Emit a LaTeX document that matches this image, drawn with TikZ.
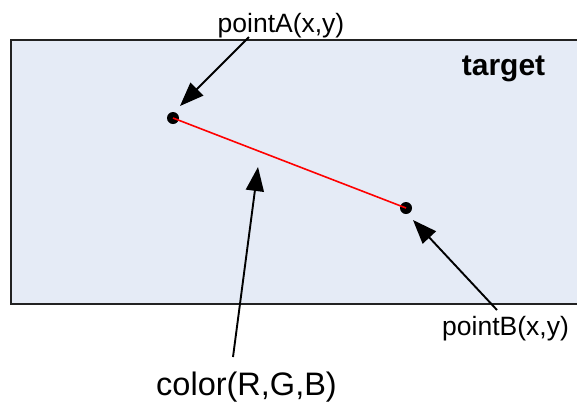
\documentclass[tikz,border=0pt]{standalone}
\usepackage{fontspec}
\setmainfont{Liberation Sans}
\usetikzlibrary{arrows.meta}
\definecolor{panel}{HTML}{E5EBF6}
\definecolor{edge}{HTML}{222222}
\tikzset{
  dot/.style={circle,fill=black,inner sep=0pt,minimum size=12bp},
  lbl/.style={inner sep=0pt,anchor=base},
  pointer/.style={draw=black,line width=1.9bp,-{Triangle[length=24bp,width=18bp]}},
}
\begin{document}
\begin{tikzpicture}[x=1bp,y=-1bp]
\useasboundingbox (0,0) rectangle (577,402);
\begin{scope}
\clip (0,0) rectangle (577,402);
\draw[fill=panel,draw=edge,line width=1.4bp] (11,40) rectangle (590,304);
\end{scope}
\node[lbl,font=\bfseries\fontsize{30bp}{34bp}\selectfont] (target) at (503.5,75) {target};
\node[dot] (A) at (173,118) {};
\node[dot] (B) at (406,208) {};
\draw[red,line width=1.6bp] (A.center) -- (B.center);
\node[lbl,font=\fontsize{26.5bp}{30bp}\selectfont] (la) at (281,32) {pointA(x,y)};
\node[lbl,font=\fontsize{26.5bp}{30bp}\selectfont] (lb) at (505.5,335) {pointB(x,y)};
\node[lbl,font=\fontsize{32.5bp}{36bp}\selectfont] (lc) at (246.5,395) {color(R,G,B)};
\coordinate (sa) at (249,37);
\coordinate (ta) at (180,106);
\coordinate (sb) at (497,310);
\coordinate (tb) at (413,220);
\coordinate (sc) at (233,357);
\coordinate (tc) at (258,167);
\draw[pointer] (sa) -- (ta);
\draw[pointer] (sb) -- (tb);
\draw[pointer] (sc) -- (tc);
\end{tikzpicture}
\end{document}
